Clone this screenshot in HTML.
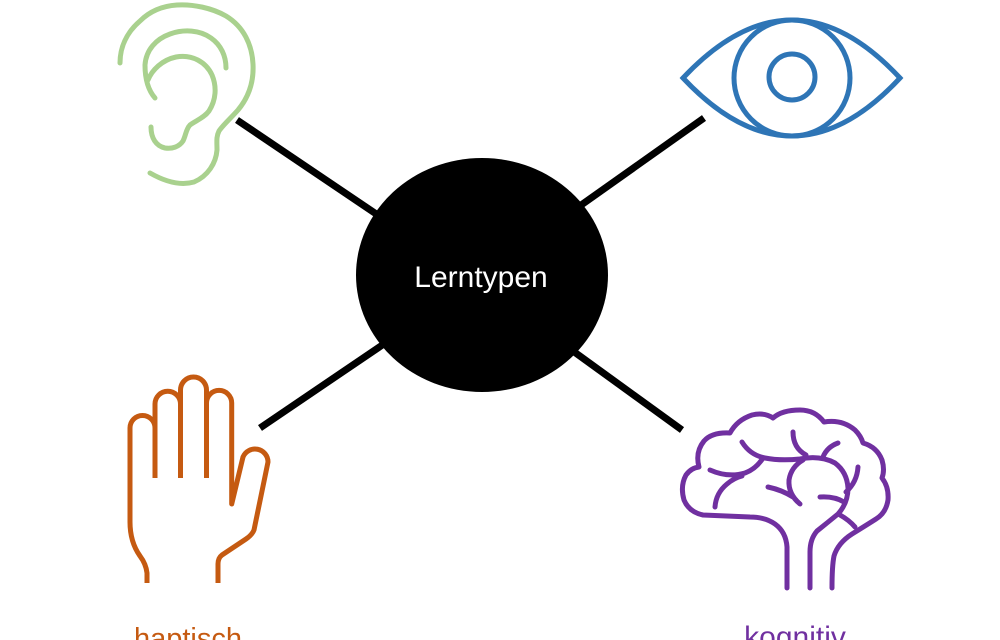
<!DOCTYPE html>
<html><head><meta charset="utf-8"><style>
html,body{margin:0;padding:0;background:#fff;}
svg{display:block;}
</style></head><body>
<svg width="1000" height="640" viewBox="0 0 1000 640" xmlns="http://www.w3.org/2000/svg">
<rect width="1000" height="640" fill="#fff"/>
<!-- connectors -->
<g stroke="#000" stroke-width="7" fill="none">
<line x1="237" y1="120" x2="400" y2="230"/>
<line x1="704" y1="118" x2="560" y2="220"/>
<line x1="260" y1="428" x2="400" y2="333"/>
<line x1="682" y1="430" x2="555" y2="338"/>
</g>
<ellipse cx="482" cy="275" rx="126" ry="117" fill="#000"/>
<text x="481" y="287" text-anchor="middle" font-family="Liberation Sans, sans-serif" font-size="30" fill="#fff">Lerntypen</text>

<!-- ear -->
<g stroke="#A9D18E" stroke-width="5" fill="none" stroke-linecap="round" stroke-linejoin="round">
<path d="M120,63 C120,48 126,33 140,21 C150,11 162,6 177,5 C193,4 212,8 226,16 C244,27 252,45 253,64 C254,83 248,98 238,110 C231,118 223,125 219,131 C216,137 217,142 217,150 C216,163 208,176 194,182 C180,186 164,181 150,173"/>
<path d="M155,98 C148,90 145,78 145,65 C146,50 156,39 170,34 C184,29 200,30 211,38 C221,45 226,56 226,68"/>
<path d="M148,80 C152,70 162,60 176,57 C192,54 206,62 212,75 C217,87 216,100 209,111 C204,118 195,121 190,125 C186,129 186,135 183,141 C179,147 172,149 165,148 C156,146 151,138 151,127"/>
</g>

<!-- eye -->
<g stroke="#2E75B6" stroke-width="5" fill="none">
<path d="M683,78 Q792,-38 900,78 Q792,194 683,78 Z" stroke-linejoin="miter"/>
<circle cx="792" cy="78" r="58"/>
<circle cx="792" cy="77" r="23"/>
</g>

<!-- hand -->
<g stroke="#C55A11" stroke-width="5" fill="none" stroke-linecap="butt" stroke-linejoin="round">
<path d="M147,583 L147,573 Q146,564 140,556 Q130,542 130,522 L130,428 A12.5,12.5 0 0 1 155,428 L155,478"/>
<path d="M155,478 L155,404 A12.7,12.7 0 0 1 180.5,404 L180.5,478"/>
<path d="M180.5,478 L180.5,390 A13,13 0 0 1 206.5,390 L206.5,478"/>
<path d="M206.5,478 L206.5,403 A12.6,12.6 0 0 1 231.7,403 L231.7,504 L243,457 A13,13 0 0 1 268,462 L254,530 Q252,535 246,539 L222,555 Q218,558 218,564 L218,583"/>
</g>

<!-- brain -->
<g stroke="#7030A0" stroke-width="5" fill="none" stroke-linecap="round" stroke-linejoin="round">
<path d="M787,588 L787,547 Q786,532 775,524 Q765,517 750,517 L703,515 Q689,512 684,500 Q680,486 686,475 Q691,468 699,467 Q695,452 704,441 Q712,432 730,433 Q737,420 752,415 Q764,412 773,418 Q782,410 800,410 Q815,410 824,422 Q842,419 855,430 Q861,436 863,443 Q877,447 882,460 Q885,470 882,478 Q889,487 888,500 Q886,513 876,519 Q865,526 852,534 Q838,543 834,556 Q832,566 832,588"/>
<path d="M742,442 Q750,455 765,458 Q780,461 800,459 Q820,455 835,463 Q847,472 848,488 Q848,503 838,514 Q827,523 817,531 Q810,539 810,552 L810,588"/>
<path d="M793,432 Q793,448 806,455"/>
<path d="M838,443 Q827,447 823,457"/>
<path d="M710,470 Q728,478 745,473 Q756,469 763,458"/>
<path d="M715,507 Q716,493 727,484 Q734,478 742,476"/>
<path d="M803,460 Q791,467 789,480 Q788,494 800,504"/>
<path d="M768,487 Q782,490 793,497"/>
<path d="M820,497 Q834,496 844,502"/>
<path d="M858,467 Q857,482 846,492"/>
<path d="M840,515 Q849,520 855,527"/>
</g>

<text x="188" y="648" text-anchor="middle" font-family="Liberation Sans, sans-serif" font-size="29" fill="#C55A11">haptisch</text>
<text x="795" y="647" text-anchor="middle" font-family="Liberation Sans, sans-serif" font-size="30" fill="#7030A0">kognitiv</text>
</svg>
</body></html>
